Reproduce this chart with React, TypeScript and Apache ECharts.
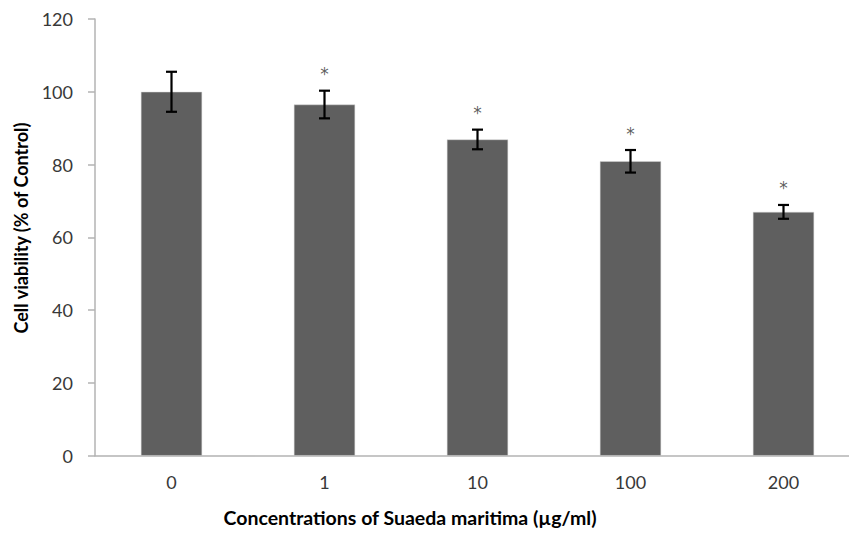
import React, { useEffect, useRef } from "react";
import * as echarts from "echarts";

const categories = ["0", "1", "10", "100", "200"];
const viability = [100, 96.5, 86.9, 80.9, 67.0];
const errors = [5.5, 3.8, 2.7, 3.1, 1.9];
const significance = ["", "*", "*", "*", "*"];
const yTicks = { min: 0, max: 120, interval: 20 };
const xTitle = "Concentrations of Suaeda maritima (µg/ml)";
const yTitle = "Cell viability (% of Control)";

const FONT = "Lato, 'Open Sans', sans-serif";

export default function App() {
  const ref = useRef<HTMLDivElement>(null);
  useEffect(() => {
    document.body.style.margin = "0";
    document.body.style.overflow = "hidden";
    document.documentElement.style.overflow = "hidden";
    const chart = echarts.init(ref.current!, null, { renderer: "svg" });
    const errData = categories.map((c, i) => [i, viability[i], errors[i]]);
    const sigData = categories.map((c, i) => ({
      value: [i, viability[i] + errors[i]],
      label: { show: significance[i] !== "", formatter: significance[i] },
    }));
    chart.setOption({
      animation: false,
      backgroundColor: "#ffffff",
      grid: { left: 95, top: 19, right: 0, bottom: 79.3, containLabel: false },
      xAxis: {
        type: "category",
        data: categories,
        axisTick: { show: false },
        axisLine: { lineStyle: { color: "#b3b3b3", width: 1.5 } },
        axisLabel: { color: "#383838", fontSize: 18, fontFamily: FONT, margin: 17 },
      },
      yAxis: {
        type: "value",
        min: yTicks.min,
        max: yTicks.max,
        interval: yTicks.interval,
        splitLine: { show: false },
        axisLine: { show: true, lineStyle: { color: "#b3b3b3", width: 1.5 } },
        axisTick: { show: true, length: 7, lineStyle: { color: "#b3b3b3", width: 1.5 } },
        axisLabel: { color: "#383838", fontSize: 18, fontFamily: FONT, margin: 22 },
      },
      series: [
        {
          type: "bar",
          data: viability,
          barCategoryGap: "60%",
          itemStyle: { color: "#5f5f5f", borderColor: "#d8d8d8", borderWidth: 0.5 },
        },
        {
          type: "custom",
          data: errData,
          z: 10,
          renderItem: (params: any, api: any) => {
            const i = api.value(0);
            const v = api.value(1);
            const e = api.value(2);
            const top = api.coord([i, v + e]);
            const bot = api.coord([i, v - e]);
            const cap = 5.5;
            const style = { stroke: "#000", lineWidth: 2.2 };
            return {
              type: "group",
              children: [
                { type: "line", shape: { x1: top[0], y1: top[1], x2: bot[0], y2: bot[1] }, style },
                { type: "line", shape: { x1: top[0] - cap, y1: top[1], x2: top[0] + cap, y2: top[1] }, style },
                { type: "line", shape: { x1: bot[0] - cap, y1: bot[1], x2: bot[0] + cap, y2: bot[1] }, style },
              ],
            };
          },
        },
        {
          type: "scatter",
          data: sigData,
          symbolSize: 0,
          z: 11,
          silent: true,
          label: {
            position: "top",
            distance: 8,
            color: "#333333",
            fontSize: 17,
            fontFamily: "'DejaVu Sans', sans-serif",
          },
        },
      ],
      graphic: [
        {
          type: "text",
          x: 410,
          y: 517,
          style: {
            text: xTitle,
            fill: "#000",
            font: `bold 19.5px ${FONT}`,
            align: "center",
            verticalAlign: "middle",
          },
        },
        {
          type: "text",
          x: 21,
          y: 228,
          rotation: Math.PI / 2,
          style: {
            text: yTitle,
            fill: "#000",
            font: `bold 18px ${FONT}`,
            align: "center",
            verticalAlign: "middle",
          },
        },
      ],
    });
    return () => chart.dispose();
  }, []);
  return <div ref={ref} style={{ position: "absolute", left: 0, top: 0, width: 860, height: 535 }} />;
}
